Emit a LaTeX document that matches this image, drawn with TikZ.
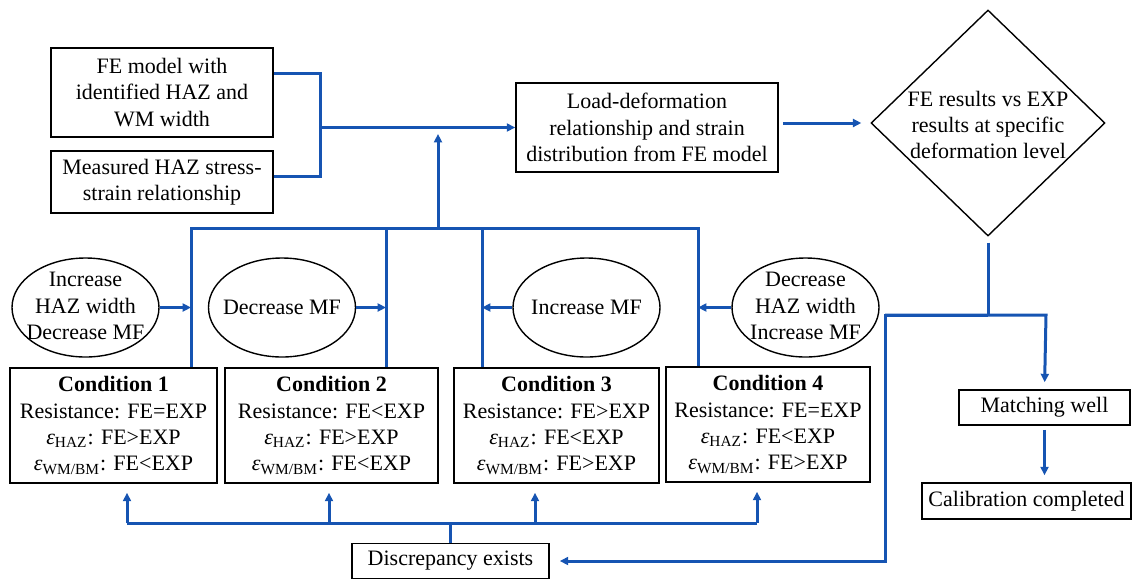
\documentclass[tikz,border=0pt]{standalone}
\usepackage{fontspec}
\setmainfont{Liberation Serif}
\usetikzlibrary{shapes.geometric,arrows.meta}
\definecolor{lineblue}{RGB}{22,84,178}
\newcommand{\epsl}[1]{\textit{ε}\textsubscript{#1}}
\begin{document}
\begin{tikzpicture}[x=0.5pt,y=-0.5pt,
  font=\fontsize{11}{13.15}\selectfont,
  box/.style={draw=black, line width=0.8pt, align=center, inner sep=0pt},
  oval/.style={draw=black, ellipse, line width=0.7pt, inner sep=0pt, minimum width=73.5pt, minimum height=49.5pt},
  lbl/.style={align=center, inner sep=0pt},
  flow/.style={draw=lineblue, line width=1.5pt},
  arr/.style={flow, -{Triangle[length=4.2pt,width=4pt]}},
]
\useasboundingbox (0,0) rectangle (1134,579);

% boxes
\node[box, minimum width=111pt, minimum height=44.5pt] (A) at (162,92.5) {FE model with\\identified HAZ and\\WM width};
\node[box, minimum width=111pt, minimum height=31pt] (B) at (162,182) {Measured HAZ stress-\\strain relationship};
\node[box, minimum width=131pt, minimum height=44.5pt] (C) at (647,127.5) {Load-deformation\\relationship and strain\\distribution from FE model};
\node[draw=black, diamond, line width=0.7pt, minimum width=117pt, minimum height=113pt, inner sep=0pt] (D) at (988,123) {};
\node[lbl] (Dt) at (988,125) {FE results vs EXP\\results at specific\\deformation level};

% ellipses
\node[oval] (E1) at (85.5,307.5) {};
\node[lbl] (E1t) at (85.5,306) {Increase\\HAZ width\\Decrease MF};
\node[oval] (E2) at (282,307.5) {};
\node[lbl] (E2t) at (282,307.5) {Decrease MF};
\node[oval] (E3) at (586.5,307.5) {};
\node[lbl] (E3t) at (586.5,307.5) {Increase MF};
\node[oval] (E4) at (805.5,307.5) {};
\node[lbl] (E4t) at (805.5,306) {Decrease\\HAZ width\\Increase MF};

% condition boxes
\node[box, minimum width=103.5pt, minimum height=57.5pt] (K1) at (113.5,425.5) {\textbf{Condition 1}\\Resistance: FE=EXP\\\epsl{HAZ}: FE>EXP\\\epsl{WM/BM}: FE<EXP};
\node[box, minimum width=106.5pt, minimum height=57.5pt] (K2) at (331.5,425.5) {\textbf{Condition 2}\\Resistance: FE<EXP\\\epsl{HAZ}: FE>EXP\\\epsl{WM/BM}: FE<EXP};
\node[box, minimum width=102.5pt, minimum height=57.5pt] (K3) at (556.5,425.5) {\textbf{Condition 3}\\Resistance: FE>EXP\\\epsl{HAZ}: FE<EXP\\\epsl{WM/BM}: FE>EXP};
\node[box, minimum width=102pt, minimum height=57.5pt] (K4) at (768,424.5) {\textbf{Condition 4}\\Resistance: FE=EXP\\\epsl{HAZ}: FE<EXP\\\epsl{WM/BM}: FE>EXP};

\node[box, minimum width=85.5pt, minimum height=17.5pt] (M) at (1044.5,407.5) {Matching well};
\node[box, minimum width=104.5pt, minimum height=18pt] (Cal) at (1026.5,501) {Calibration completed};
\node[box, minimum width=98.5pt, minimum height=17.5pt] (Dis) at (450.5,561) {Discrepancy exists};

% junction coordinates
\coordinate (jA) at (320,73);
\coordinate (jB) at (320,176);
\coordinate (j0) at (320,127.5);
\coordinate (b1) at (191,228);
\coordinate (b2) at (386,228);
\coordinate (bm) at (438,228);
\coordinate (b3) at (482,228);
\coordinate (b4) at (698,228);
\coordinate (upTip) at (438,134);
\coordinate (dj) at (988,315);
\coordinate (dl) at (885,315);
\coordinate (dr) at (1046,315);
\coordinate (d1) at (127,523);
\coordinate (d2) at (329,523);
\coordinate (dm) at (450.5,523);
\coordinate (d3) at (535,523);
\coordinate (d4) at (757,523);

% top inputs
\draw[flow] (A.east |- jA) -- (jA) -- (jB) -- (B.east |- jB);
\draw[arr] (j0) -- (C.west);
\draw[arr, shorten <=2pt, shorten >=4.5pt] (C.east |- D.west) -- (D.west);

% upper bus
\draw[flow] (K1.north -| b1) -- (b1) -- (b4) -- (K4.north -| b4);
\draw[flow] (K2.north -| b2) -- (b2);
\draw[flow] (K3.north -| b3) -- (b3);
\draw[arr] (bm) -- (upTip);

% ellipse arrows
\draw[arr] (E1.east) -- (E1.east -| b1);
\draw[arr] (E2.east) -- (E2.east -| b2);
\draw[arr] (E3.west) -- (E3.west -| b3);
\draw[arr] (E4.west) -- (E4.west -| b4);

% decision outputs
\draw[flow, shorten <=3pt] (D.south) -- (dj);
\draw[arr, shorten >=3.5pt] (dl) -- (dr) -- (M.north);
\draw[arr, shorten >=5pt] (dj) -- (dl) -- (dl |- Dis.east) -- (Dis.east);
\draw[arr, shorten <=2pt, shorten >=3.5pt] (M.south) -- (M.south |- Cal.north);

% lower bus
\draw[flow] (Dis.north) -- (dm);
\draw[flow] (d1) -- (d4);
\draw[arr, shorten >=4.5pt] (d1) -- (K1.south -| d1);
\draw[arr, shorten >=4.5pt] (d2) -- (K2.south -| d2);
\draw[arr, shorten >=4.5pt] (d3) -- (K3.south -| d3);
\draw[arr, shorten >=4.5pt] (d4) -- (K4.south -| d4);
\end{tikzpicture}
\end{document}
